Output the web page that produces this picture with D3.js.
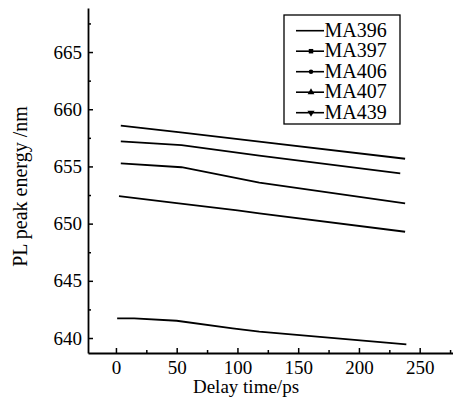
<!DOCTYPE html>
<html><head><meta charset="utf-8">
<script src="https://cdn.jsdelivr.net/npm/d3@7"></script>
<style>body{margin:0;background:#fff}svg{display:block}text{font-family:"Liberation Serif","Times New Roman",serif}</style>
</head><body>
<script>
const seriesNames = ["MA396","MA397","MA406","MA407","MA439"];
const symbols = [null, d3.symbolSquare, d3.symbolCircle, d3.symbolTriangle, "down"];
const s1 = [[4,658.56],[55,657.95],[118,657.16],[238,655.67]];
const s2 = [[4,657.19],[54,656.87],[118,655.94],[234,654.40]];
const s3 = [[4,655.27],[54,654.93],[118,653.58],[238,651.77]];
const s4 = [[2.5,652.41],[50,651.8],[100,651.15],[118,650.90],[238,649.29]];
const s5 = [[1,641.72],[15,641.72],[50,641.51],[96,640.85],[118,640.55],[239,639.45]];
const seriesData = [s1,s2,s3,s4,s5];
const xTicks = [0,50,100,150,200,250];
const xMinor = [25,75,125,175,225,275];
const yTicks = [640,645,650,655,660,665];
const yMinor = [642.5,647.5,652.5,657.5,662.5,667.5];

const W=454,H=400;
const svg=d3.select("body").append("svg").attr("width",W).attr("height",H);
const x=d3.scaleLinear().domain([-23,277]).range([88,452.5]);
const y=d3.scaleLinear().domain([638.69,668.85]).range([353,8]);
const font='"Liberation Serif","Times New Roman",serif';

// lines
const line=d3.line().x(d=>x(d[0])).y(d=>y(d[1]));
svg.append("g").selectAll("path").data(seriesData).join("path")
  .attr("d",line).attr("fill","none").attr("stroke","#000").attr("stroke-width",1.8);

// axes
const gx=svg.append("g").attr("transform",`translate(0,${y.range()[0]})`)
  .call(d3.axisBottom(x).tickValues(xTicks).tickSizeInner(-5).tickSizeOuter(0).tickPadding(7.5));
svg.append("g").attr("transform",`translate(0,${y.range()[0]})`)
  .call(d3.axisBottom(x).tickValues(xMinor).tickFormat("").tickSizeInner(-3).tickSizeOuter(0))
  .select(".domain").remove();
const gy=svg.append("g").attr("transform",`translate(${x.range()[0]},0)`)
  .call(d3.axisLeft(y).tickValues(yTicks).tickSizeInner(-5).tickSizeOuter(0).tickPadding(6));
svg.append("g").attr("transform",`translate(${x.range()[0]},0)`)
  .call(d3.axisLeft(y).tickValues(yMinor).tickFormat("").tickSizeInner(-3).tickSizeOuter(0))
  .select(".domain").remove();
[gx,gy].forEach(g=>g.attr("font-family",font).attr("font-size",19));
svg.selectAll(".domain").attr("stroke","#000").attr("stroke-width",1.8);
svg.selectAll(".tick line").attr("stroke","#000").attr("stroke-width",1.5);
svg.selectAll(".tick text").attr("font-family",font).attr("font-size",19).attr("fill","#000");

// axis titles
svg.append("text").attr("x",246).attr("y",393).attr("text-anchor","middle")
  .attr("font-family",font).attr("font-size",19).text("Delay time/ps");
svg.append("text").attr("transform","translate(27,186.5) rotate(-90)").attr("text-anchor","middle")
  .attr("font-family",font).attr("font-size",20).text("PL peak energy /nm");

// legend
const lg=svg.append("g");
lg.append("rect").attr("x",284).attr("y",15).attr("width",116).attr("height",109)
  .attr("fill","#fff").attr("stroke","#000").attr("stroke-width",1.3);
seriesNames.forEach((n,i)=>{
  const by=36.7+i*20.5, cy=by-6;
  lg.append("line").attr("x1",296).attr("x2",324).attr("y1",cy).attr("y2",cy)
    .attr("stroke","#000").attr("stroke-width",1.6);
  const s=symbols[i];
  if(s){
    const sym = s==="down" ? d3.symbol(d3.symbolTriangle,22)() : d3.symbol(s, s===d3.symbolCircle?16:20)();
    lg.append("path").attr("d",sym)
      .attr("transform",`translate(311,${cy})`+(s==="down"?" rotate(180)":"")).attr("fill","#000");
  }
  lg.append("text").attr("x",324.5).attr("y",by).attr("font-family",font).attr("font-size",20).text(n);
});
</script>
</body></html>
